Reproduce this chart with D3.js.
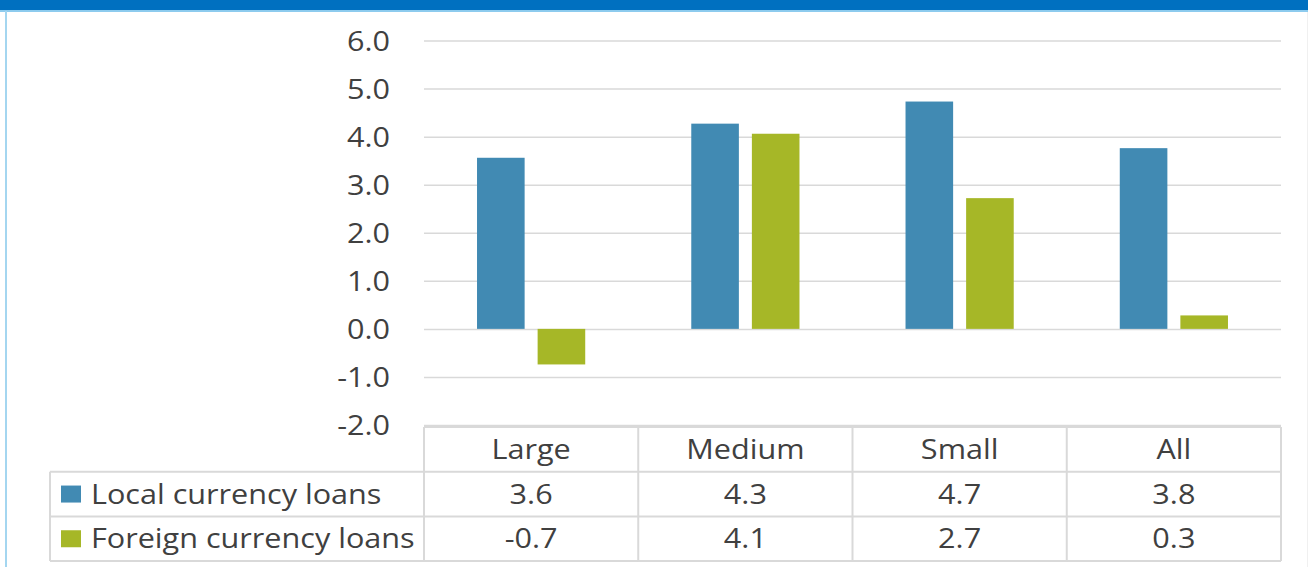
<!DOCTYPE html>
<html>
<head>
<meta charset="utf-8">
<script src="https://cdn.jsdelivr.net/npm/d3@7"></script>
<style>
  html, body { margin: 0; padding: 0; background: #fff; }
  svg { display: block; }
  text { font-family: "Open Sans", sans-serif; fill: #404040; }
</style>
</head>
<body>
<svg id="chart" width="1308" height="567"></svg>
<script>
const categories = ["Large", "Medium", "Small", "All"];
const seriesNames = ["Local currency loans", "Foreign currency loans"];
const localValues = [3.56, 4.27, 4.73, 3.76];
const foreignValues = [-0.74, 4.06, 2.72, 0.28];
const yTicks = [-2, -1, 0, 1, 2, 3, 4, 5, 6];
const seriesColors = ["#418AB3", "#A6B727"];

const series = [
  { name: seriesNames[0], values: localValues, color: seriesColors[0] },
  { name: seriesNames[1], values: foreignValues, color: seriesColors[1] }
];

const W = 1308, H = 567;
const FS = 26.5, SX = 1.155;
const svg = d3.select("#chart");
const fmt = v => v.toFixed(1);

function label(g, x, y, txt, anchor) {
  return g.append("text")
    .attr("transform", `translate(${x},${y}) scale(${SX},1)`)
    .attr("dy", "0.36em")
    .attr("text-anchor", anchor)
    .attr("font-size", FS)
    .text(txt);
}

// frame
svg.append("rect").attr("x", 0).attr("y", 0).attr("width", W).attr("height", 10).attr("fill", "#0070C0");
svg.append("rect").attr("x", 0).attr("y", 10).attr("width", W).attr("height", 2).attr("fill", "#8DCBEE");
svg.append("rect").attr("x", 5).attr("y", 11).attr("width", 2).attr("height", H - 11).attr("fill", "#A4D6F0");
svg.append("rect").attr("x", 1307).attr("y", 12).attr("width", 1).attr("height", H - 12).attr("fill", "#F0F0F0");

const left = 424, right = 1281;
const y = d3.scaleLinear().domain([-2, 6]).range([425, 40.5]);
const x0 = d3.scaleBand().domain(categories).range([left, right]).padding(0);
const x1 = d3.scaleBand().domain(seriesNames).range([0, x0.bandwidth()])
  .paddingInner(0.2145).paddingOuter(0.875);

// gridlines + tick labels
const yAxis = d3.axisLeft(y).tickValues(yTicks).tickFormat(fmt).tickSize(-(right - left)).tickPadding(34);
const gAxis = svg.append("g").attr("transform", `translate(${left},0)`).call(yAxis);
gAxis.select(".domain").remove();
gAxis.selectAll(".tick line").attr("stroke", "#D9D9D9").attr("stroke-width", 1.5);
gAxis.selectAll(".tick text")
  .attr("x", null)
  .attr("transform", `translate(-34,0) scale(${SX},1)`)
  .attr("font-size", FS).attr("fill", "#404040")
  .style("font-family", '"Open Sans", sans-serif').attr("dy", "0.36em");

// bars
const gBars = svg.append("g");
series.forEach(s => {
  gBars.selectAll(null).data(categories.map((c, i) => ({ c, v: s.values[i] })))
    .enter().append("rect")
    .attr("x", d => x0(d.c) + x1(s.name))
    .attr("width", x1.bandwidth())
    .attr("y", d => y(Math.max(0, d.v)))
    .attr("height", d => Math.abs(y(d.v) - y(0)))
    .attr("fill", s.color);
});

// data table
const rowTop = 427, rowH = 44.7;
const tableLeft = 50;
const lineColor = "#D9D9D9";
const gT = svg.append("g");

gT.append("line").attr("x1", left).attr("x2", right).attr("y1", rowTop).attr("y2", rowTop);
for (let r = 1; r <= 3; r++) {
  gT.append("line").attr("x1", tableLeft).attr("x2", right)
    .attr("y1", rowTop + r * rowH).attr("y2", rowTop + r * rowH);
}
gT.append("line").attr("x1", tableLeft).attr("x2", tableLeft).attr("y1", rowTop + rowH).attr("y2", rowTop + 3 * rowH);
categories.forEach(c => {
  gT.append("line").attr("x1", x0(c)).attr("x2", x0(c)).attr("y1", rowTop).attr("y2", rowTop + 3 * rowH);
});
gT.append("line").attr("x1", right).attr("x2", right).attr("y1", rowTop).attr("y2", rowTop + 3 * rowH);
gT.selectAll("line").attr("stroke", lineColor).attr("stroke-width", 2);

categories.forEach(c => {
  label(gT, x0(c) + x0.bandwidth() / 2, rowTop + rowH / 2, c, "middle");
});

series.forEach((s, si) => {
  const cy = rowTop + (si + 1) * rowH + rowH / 2;
  gT.append("rect").attr("x", 61).attr("y", cy - 8.5).attr("width", 20).attr("height", 17).attr("fill", s.color);
  label(gT, 91, cy, s.name, "start");
  s.values.forEach((v, i) => {
    label(gT, x0(categories[i]) + x0.bandwidth() / 2, cy, fmt(v), "middle");
  });
});
</script>
</body>
</html>
